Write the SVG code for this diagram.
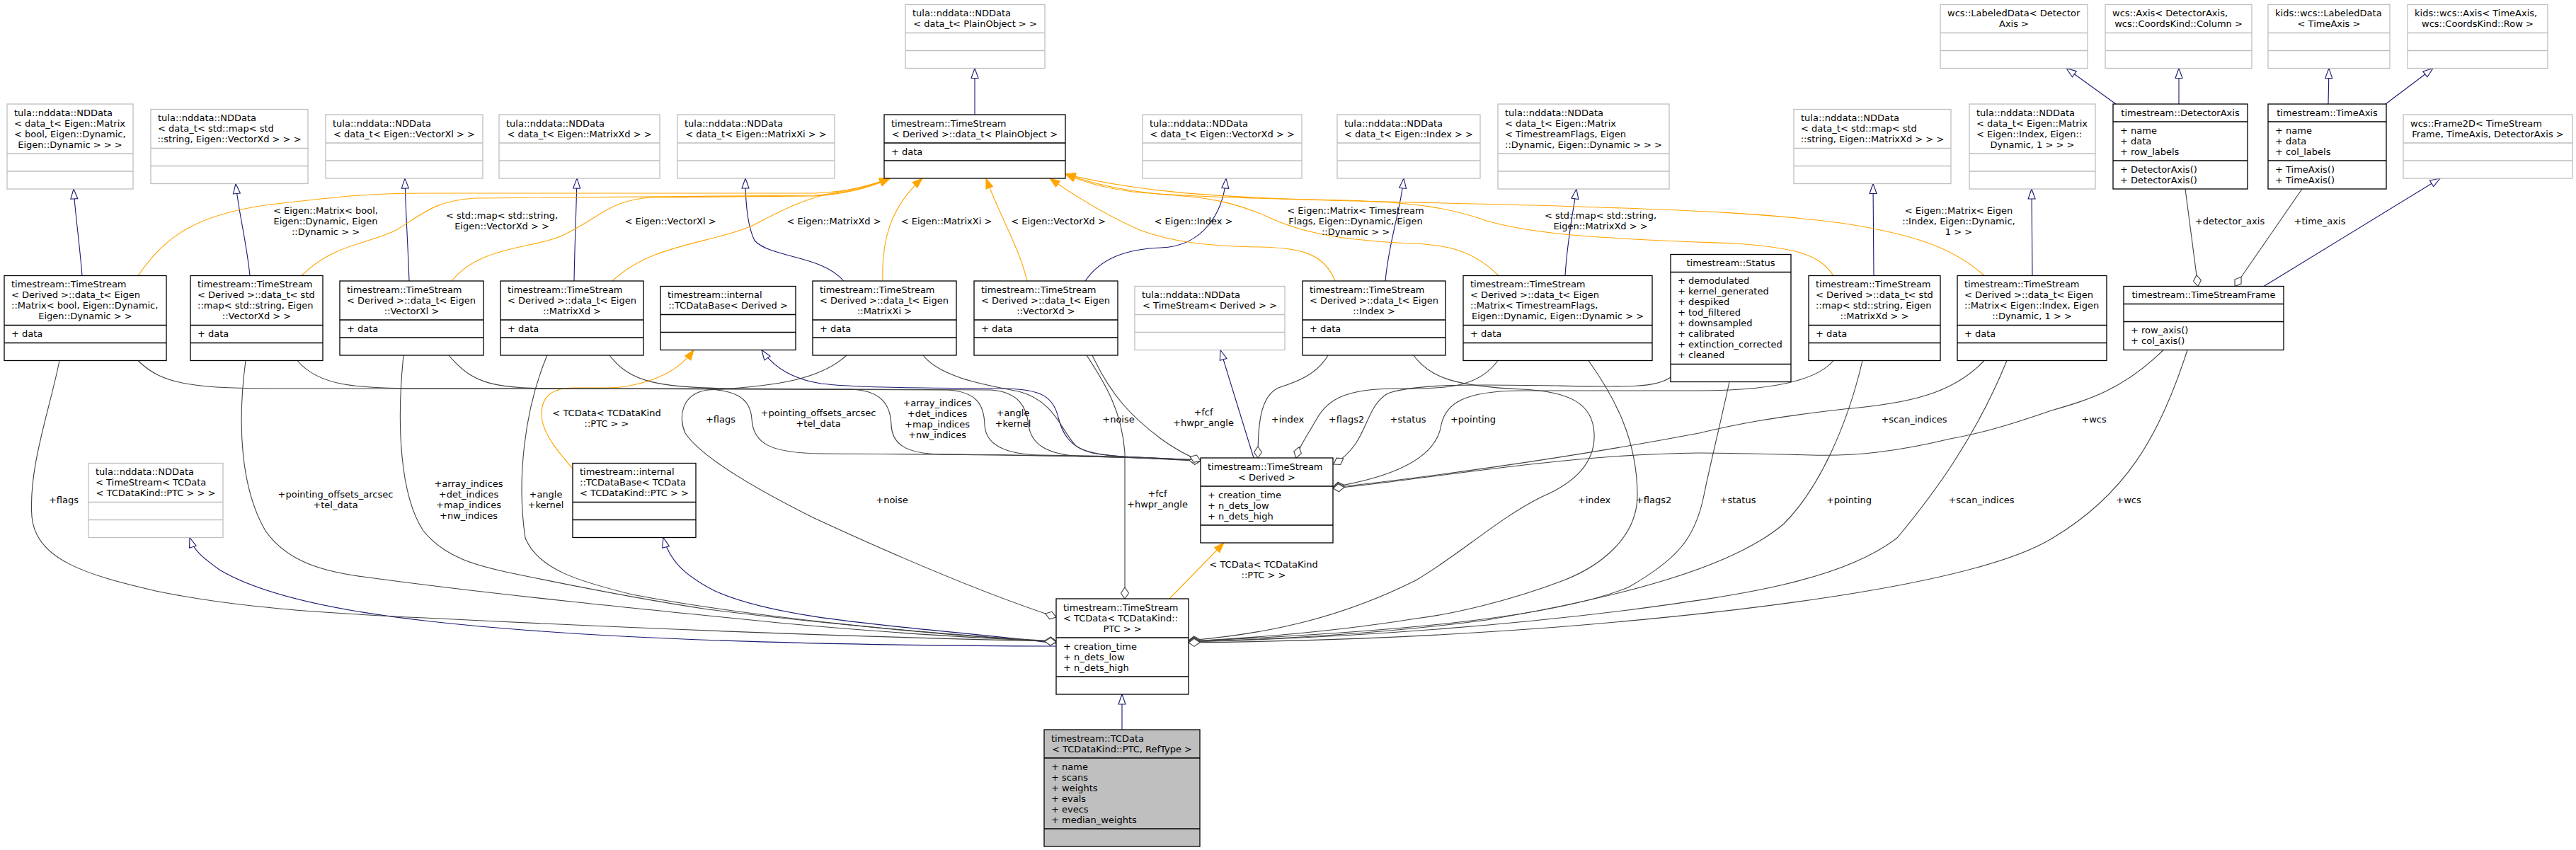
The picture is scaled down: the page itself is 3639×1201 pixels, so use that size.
<svg xmlns="http://www.w3.org/2000/svg" width="3639" height="1201" viewBox="0 0 3639 1201">
<style>
text{font-family:"DejaVu Sans","Liberation Sans",sans-serif;font-size:13px;fill:#000}
.m{text-anchor:middle}
.nb rect{fill:#fff;stroke:#000;stroke-width:1.3}
.nb path{fill:none;stroke:#000;stroke-width:1.3}
.ng rect{fill:#fff;stroke:#bfbfbf;stroke-width:1.3}
.ng path{fill:none;stroke:#bfbfbf;stroke-width:1.3}
.nh rect{fill:#bfbfbf;stroke:#000;stroke-width:1.3}
.nh path{fill:none;stroke:#000;stroke-width:1.3}
#edges path{fill:none;stroke-width:1.1}
#edges .inh{stroke:#191970;marker-end:url(#mInh)}
#edges .tpl{stroke:#ffa500;marker-end:url(#mTpl)}
#edges .agg{stroke:#404040;marker-end:url(#mAgg)}
</style>
<defs>
<marker id="mInh" markerUnits="userSpaceOnUse" markerWidth="18" markerHeight="14" refX="15" refY="6" orient="auto" overflow="visible"><path d="M1,1 L15,6 L1,11 Z" fill="#fff" stroke="#191970" stroke-width="1.1"/></marker>
<marker id="mTpl" markerUnits="userSpaceOnUse" markerWidth="18" markerHeight="14" refX="15" refY="6" orient="auto" overflow="visible"><path d="M1,1 L15,6 L1,11 Z" fill="#ffa500" stroke="#ffa500" stroke-width="1.1"/></marker>
<marker id="mAgg" markerUnits="userSpaceOnUse" markerWidth="20" markerHeight="14" refX="17" refY="6" orient="auto" overflow="visible"><path d="M1,6 L9,0.5 L17,6 L9,11.5 Z" fill="#fff" stroke="#404040" stroke-width="1.1"/></marker>
</defs>
<rect x="0" y="0" width="3639" height="1201" fill="#fff"/>

<g id="edges">
<!-- inheritance -->
<path class="inh" d="M1377,162 L1377,96.5"/>
<path class="inh" d="M116,389.5 C112,340 106,300 104,267"/>
<path class="inh" d="M353,389.5 C348,340 337,300 333,259.5"/>
<path class="inh" d="M578,397 C576,340 573,300 572,252"/>
<path class="inh" d="M811,397 C812,340 814,300 815,252"/>
<path class="inh" d="M1192,397 C1160,360 1090,365 1066,340 C1056,320 1053,290 1053,252"/>
<path class="inh" d="M1533,397 C1555,365 1590,352 1640,350 C1700,348 1728,300 1732,252"/>
<path class="inh" d="M1957,397 C1962,340 1978,300 1983,252"/>
<path class="inh" d="M2211,389.5 C2214,340 2222,300 2227,267"/>
<path class="inh" d="M2647,389.5 L2646,259.5"/>
<path class="inh" d="M2871,389.5 L2870,267"/>
<path class="inh" d="M2989,147 L2919,96.5"/>
<path class="inh" d="M3078,147 L3078,96.5"/>
<path class="inh" d="M3289,147 L3290,96.5"/>
<path class="inh" d="M3370,147 L3437,96.5"/>
<path class="inh" d="M3198,404.5 L3447,252"/>
<path class="inh" d="M1771,647 L1724,494.5"/>
<path class="inh" d="M1696,650 C1620,646 1570,646 1543,640 C1510,632 1500,610 1495,590 C1488,560 1470,550 1420,549 C1300,548 1210,548 1160,542 C1115,535 1090,515 1076,494.5"/>
<path class="inh" d="M1492,909 C1300,885 1110,880 1010,835 C965,812 945,790 937,759.5"/>
<path class="inh" d="M1492,913 C1100,912 800,900 600,877 C450,860 360,835 310,805 C285,787 274,778 268,759.5"/>
<path class="inh" d="M1585,1031 L1585,981"/>
<!-- template instances -->
<path class="tpl" d="M195,389.5 C230,340 270,300 399,287 C480,278 520,273 600,273 L1150,273 C1200,271 1230,262 1257,252"/>
<path class="tpl" d="M426,389.5 C470,345 520,345 560,325 C600,300 615,284 670,280 L1150,276 C1200,273 1230,263 1257,252"/>
<path class="tpl" d="M638,397 C680,345 760,352 800,330 C850,305 862,283 920,279 L1150,277 C1200,274 1232,264 1257,252"/>
<path class="tpl" d="M865,397 C920,345 1000,345 1060,320 C1100,300 1130,282 1180,272 C1220,265 1240,258 1257,252"/>
<path class="tpl" d="M1247,397 C1245,340 1258,292 1303,252"/>
<path class="tpl" d="M1451,397 C1440,350 1410,300 1393,252"/>
<path class="tpl" d="M1886,397 C1870,355 1830,350 1780,349 C1700,348 1650,340 1610,325 C1560,303 1520,278 1483,252"/>
<path class="tpl" d="M2117,389.5 C2080,352 2040,346 1997,344 C1900,340 1840,330 1790,306 C1740,284 1700,279 1660,276 C1600,272 1550,262 1505,246"/>
<path class="tpl" d="M2590,389.5 C2570,360 2540,350 2450,344 C2300,338 2180,335 2100,312 C2050,294 2000,286 1900,283 C1700,279 1600,269 1505,246"/>
<path class="tpl" d="M2803,389.5 C2760,350 2700,330 2600,315 C2500,302 2400,297 2200,291 C1950,284 1700,281 1600,271 C1560,266 1530,257 1505,246"/>
<path class="tpl" d="M809,662 C790,640 765,612 765,585 C765,557 785,548 810,548 C850,548 870,549 890,545 C925,538 958,525 980,494.5"/>
<path class="tpl" d="M1652,846 L1729,767"/>
<!-- aggregations to TimeStream<Derived> -->
<path class="agg" d="M195,509.5 C230,545 280,549 400,549 L980,549 C1040,549 1060,562 1062,592 C1064,628 1090,640 1160,641 C1400,642 1600,644 1696,651"/>
<path class="agg" d="M420,509.5 C450,545 500,549 600,549 L1200,550 C1245,551 1258,572 1259,600 C1260,628 1280,641 1330,642 C1450,643 1600,645 1696,651"/>
<path class="agg" d="M634,502 C670,545 700,549 800,549 L1340,551 C1380,554 1390,572 1391,600 C1392,628 1420,642 1470,643 C1560,644 1630,646 1696,651"/>
<path class="agg" d="M861,502 C890,540 930,548 1036,549 L1400,551 C1440,554 1450,576 1453,600 C1456,628 1480,643 1530,645 C1600,646 1650,648 1696,651"/>
<path class="agg" d="M1304,502 C1330,535 1400,545 1439,553 C1490,566 1500,610 1520,630 C1540,645 1600,647 1696,651"/>
<path class="agg" d="M1543,502 C1570,560 1600,590 1640,620 C1662,636 1680,645 1696,651"/>
<path class="agg" d="M1876,502 C1860,530 1830,540 1806,548 C1780,560 1777,600 1777,647"/>
<path class="agg" d="M2116,509.5 C2090,545 2050,550 1980,549 C1900,548 1875,565 1860,592 C1845,618 1835,632 1831,647"/>
<path class="agg" d="M2360,533 C2340,548 2300,547 2200,545 C2080,543 2000,542 1960,556 C1925,578 1935,625 1884,656"/>
<path class="agg" d="M2590,509.5 C2560,545 2470,552 2400,552 L2150,552 C2065,552 2042,572 2036,600 C2030,642 1980,672 1883,688"/>
<path class="agg" d="M2803,509.5 C2760,555 2700,570 2605,578 C2500,590 2450,600 2400,612 C2200,650 2000,676 1883,689"/>
<path class="agg" d="M3056,494.5 C3000,550 2950,565 2898,580 C2840,600 2800,612 2755,620 C2680,638 2620,645 2558,643 C2480,641 2440,640 2400,640 C2200,642 2000,680 1883,690"/>
<!-- aggregations to TimeStream<TCData<...>> -->
<path class="agg" d="M84,509.5 C70,580 40,660 45,730 C50,790 120,812 220,835 C330,858 450,866 600,873 C900,888 1200,900 1492,906"/>
<path class="agg" d="M347,509.5 C335,600 340,690 375,750 C410,800 470,810 536,818 C700,840 900,860 1100,880 C1250,894 1400,903 1492,906"/>
<path class="agg" d="M570,502 C560,600 565,700 598,750 C630,790 680,800 714,808 C800,826 900,846 1000,861 C1200,886 1400,901 1492,906"/>
<path class="agg" d="M773,502 C740,580 730,680 742,760 C760,805 820,822 893,840 C1050,870 1300,896 1492,907"/>
<path class="agg" d="M1196,502 C1160,535 1100,546 1000,551 C962,556 958,590 968,612 C988,642 1050,682 1150,732 C1280,792 1400,842 1492,872"/>
<path class="agg" d="M1535,502 C1560,540 1585,580 1589,640 L1589,846"/>
<path class="agg" d="M1997,502 C2020,535 2060,546 2150,550 C2220,553 2250,572 2252,612 C2254,650 2230,680 2178,702 C2120,730 2060,785 2000,820 C1900,870 1800,895 1679,905"/>
<path class="agg" d="M2244,509.5 C2280,560 2313,620 2313,700 C2313,760 2260,800 2209,820 C2130,850 2050,868 2000,874 C1900,890 1800,900 1679,906"/>
<path class="agg" d="M2443,539.5 C2430,600 2415,660 2407,700 C2395,760 2370,790 2300,830 C2200,870 2000,892 1679,906"/>
<path class="agg" d="M2631,509.5 C2610,600 2570,690 2520,740 C2450,800 2300,842 2100,876 C1950,896 1800,903 1679,907"/>
<path class="agg" d="M2835,509.5 C2790,620 2730,700 2680,760 C2600,822 2450,842 2300,862 C2100,887 1900,901 1679,907"/>
<path class="agg" d="M3090,494.5 C3050,620 3000,700 2900,760 C2800,822 2500,862 2200,886 C2000,901 1850,906 1679,908"/>
<!-- aggregations to TimeStreamFrame -->
<path class="agg" d="M3087,267 L3105,404.5"/>
<path class="agg" d="M3252,267 L3157,404.5"/>
</g>

<g id="edge-labels">
<text class="m" x="460" y="302">&lt; Eigen::Matrix&lt; bool,</text>
<text class="m" x="460" y="317">Eigen::Dynamic, Eigen</text>
<text class="m" x="460" y="332">::Dynamic &gt; &gt;</text>
<text class="m" x="709" y="309">&lt; std::map&lt; std::string,</text>
<text class="m" x="709" y="324">Eigen::VectorXd &gt; &gt;</text>
<text class="m" x="947" y="317">&lt; Eigen::VectorXl &gt;</text>
<text class="m" x="1178" y="317">&lt; Eigen::MatrixXd &gt;</text>
<text class="m" x="1337" y="317">&lt; Eigen::MatrixXi &gt;</text>
<text class="m" x="1495" y="317">&lt; Eigen::VectorXd &gt;</text>
<text class="m" x="1686" y="317">&lt; Eigen::Index &gt;</text>
<text class="m" x="1915" y="302">&lt; Eigen::Matrix&lt; Timestream</text>
<text class="m" x="1915" y="317">Flags, Eigen::Dynamic, Eigen</text>
<text class="m" x="1915" y="332">::Dynamic &gt; &gt;</text>
<text class="m" x="2261" y="309">&lt; std::map&lt; std::string,</text>
<text class="m" x="2261" y="324">Eigen::MatrixXd &gt; &gt;</text>
<text class="m" x="2767" y="302">&lt; Eigen::Matrix&lt; Eigen</text>
<text class="m" x="2767" y="317">::Index, Eigen::Dynamic,</text>
<text class="m" x="2767" y="332">1 &gt; &gt;</text>
<text class="m" x="857" y="588">&lt; TCData&lt; TCDataKind</text>
<text class="m" x="857" y="603">::PTC &gt; &gt;</text>
<text class="m" x="1785" y="802">&lt; TCData&lt; TCDataKind</text>
<text class="m" x="1785" y="817">::PTC &gt; &gt;</text>
<text class="m" x="1018" y="597">+flags</text>
<text class="m" x="1156" y="588">+pointing_offsets_arcsec</text>
<text class="m" x="1156" y="603">+tel_data</text>
<text class="m" x="1324" y="574">+array_indices</text>
<text class="m" x="1324" y="589">+det_indices</text>
<text class="m" x="1324" y="604">+map_indices</text>
<text class="m" x="1324" y="619">+nw_indices</text>
<text class="m" x="1431" y="588">+angle</text>
<text class="m" x="1431" y="603">+kernel</text>
<text class="m" x="1580" y="597">+noise</text>
<text class="m" x="1700" y="587">+fcf</text>
<text class="m" x="1700" y="602">+hwpr_angle</text>
<text class="m" x="1819" y="597">+index</text>
<text class="m" x="1902" y="597">+flags2</text>
<text class="m" x="1989" y="597">+status</text>
<text class="m" x="2081" y="597">+pointing</text>
<text class="m" x="2704" y="597">+scan_indices</text>
<text class="m" x="2958" y="597">+wcs</text>
<text class="m" x="90" y="711">+flags</text>
<text class="m" x="474" y="703">+pointing_offsets_arcsec</text>
<text class="m" x="474" y="718">+tel_data</text>
<text class="m" x="662" y="688">+array_indices</text>
<text class="m" x="662" y="703">+det_indices</text>
<text class="m" x="662" y="718">+map_indices</text>
<text class="m" x="662" y="733">+nw_indices</text>
<text class="m" x="771" y="703">+angle</text>
<text class="m" x="771" y="718">+kernel</text>
<text class="m" x="1260" y="711">+noise</text>
<text class="m" x="1635" y="702">+fcf</text>
<text class="m" x="1635" y="717">+hwpr_angle</text>
<text class="m" x="2252" y="711">+index</text>
<text class="m" x="2336" y="711">+flags2</text>
<text class="m" x="2455" y="711">+status</text>
<text class="m" x="2612" y="711">+pointing</text>
<text class="m" x="2799" y="711">+scan_indices</text>
<text class="m" x="3007" y="711">+wcs</text>
<text class="m" x="3150" y="317">+detector_axis</text>
<text class="m" x="3277" y="317">+time_axis</text>
</g>

<!-- rank 1 -->
<g id="n_nd_plainobject" class="ng"><rect x="1279" y="6.5" width="197" height="90"/><path d="M1279,46.5 h197 M1279,71.5 h197"/>
<text x="1289" y="23">tula::nddata::NDData</text><text class="m" x="1377.5" y="38">&lt; data_t&lt; PlainObject &gt; &gt;</text></g>
<g id="n_labeleddata_det" class="ng"><rect x="2741" y="6.5" width="208" height="90"/><path d="M2741,46.5 h208 M2741,71.5 h208"/>
<text x="2751" y="23">wcs::LabeledData&lt; Detector</text><text class="m" x="2845" y="38">Axis &gt;</text></g>
<g id="n_axis_det" class="ng"><rect x="2974" y="6.5" width="207" height="90"/><path d="M2974,46.5 h207 M2974,71.5 h207"/>
<text x="2984" y="23">wcs::Axis&lt; DetectorAxis,</text><text class="m" x="3077.5" y="38">wcs::CoordsKind::Column &gt;</text></g>
<g id="n_labeleddata_time" class="ng"><rect x="3204" y="6.5" width="172" height="90"/><path d="M3204,46.5 h172 M3204,71.5 h172"/>
<text x="3214" y="23">kids::wcs::LabeledData</text><text class="m" x="3290" y="38">&lt; TimeAxis &gt;</text></g>
<g id="n_axis_time" class="ng"><rect x="3401" y="6.5" width="198" height="90"/><path d="M3401,46.5 h198 M3401,71.5 h198"/>
<text x="3411" y="23">kids::wcs::Axis&lt; TimeAxis,</text><text class="m" x="3500" y="38">wcs::CoordsKind::Row &gt;</text></g>

<!-- rank 2 -->
<g id="n_nd_matbool" class="ng"><rect x="10" y="147" width="178" height="120"/><path d="M10,217 h178 M10,242 h178"/>
<text x="20" y="163.5">tula::nddata::NDData</text><text x="20" y="178.5">&lt; data_t&lt; Eigen::Matrix</text><text x="20" y="193.5">&lt; bool, Eigen::Dynamic,</text><text class="m" x="99" y="208.5">Eigen::Dynamic &gt; &gt; &gt;</text></g>
<g id="n_nd_mapvec" class="ng"><rect x="213" y="154.5" width="222" height="105"/><path d="M213,209.5 h222 M213,234.5 h222"/>
<text x="223" y="171">tula::nddata::NDData</text><text x="223" y="186">&lt; data_t&lt; std::map&lt; std</text><text class="m" x="324" y="201">::string, Eigen::VectorXd &gt; &gt; &gt;</text></g>
<g id="n_nd_vecxl" class="ng"><rect x="460" y="162" width="222" height="90"/><path d="M460,202 h222 M460,227 h222"/>
<text x="470" y="178.5">tula::nddata::NDData</text><text class="m" x="571" y="193.5">&lt; data_t&lt; Eigen::VectorXl &gt; &gt;</text></g>
<g id="n_nd_matxd" class="ng"><rect x="705" y="162" width="227" height="90"/><path d="M705,202 h227 M705,227 h227"/>
<text x="715" y="178.5">tula::nddata::NDData</text><text class="m" x="818.5" y="193.5">&lt; data_t&lt; Eigen::MatrixXd &gt; &gt;</text></g>
<g id="n_nd_matxi" class="ng"><rect x="957" y="162" width="222" height="90"/><path d="M957,202 h222 M957,227 h222"/>
<text x="967" y="178.5">tula::nddata::NDData</text><text class="m" x="1068" y="193.5">&lt; data_t&lt; Eigen::MatrixXi &gt; &gt;</text></g>
<g id="n_datat_plainobject" class="nb"><rect x="1249" y="162" width="256" height="90"/><path d="M1249,202 h256 M1249,227 h256"/>
<text x="1259" y="178.5">timestream::TimeStream</text><text class="m" x="1377" y="193.5">&lt; Derived &gt;::data_t&lt; PlainObject &gt;</text><text x="1259" y="218.5">+ data</text></g>
<g id="n_nd_vecxd" class="ng"><rect x="1614" y="162" width="225" height="90"/><path d="M1614,202 h225 M1614,227 h225"/>
<text x="1624" y="178.5">tula::nddata::NDData</text><text class="m" x="1726.5" y="193.5">&lt; data_t&lt; Eigen::VectorXd &gt; &gt;</text></g>
<g id="n_nd_index" class="ng"><rect x="1889" y="162" width="202" height="90"/><path d="M1889,202 h202 M1889,227 h202"/>
<text x="1899" y="178.5">tula::nddata::NDData</text><text class="m" x="1990" y="193.5">&lt; data_t&lt; Eigen::Index &gt; &gt;</text></g>
<g id="n_nd_matflags" class="ng"><rect x="2116" y="147" width="242" height="120"/><path d="M2116,217 h242 M2116,242 h242"/>
<text x="2126" y="163.5">tula::nddata::NDData</text><text x="2126" y="178.5">&lt; data_t&lt; Eigen::Matrix</text><text x="2126" y="193.5">&lt; TimestreamFlags, Eigen</text><text class="m" x="2237" y="208.5">::Dynamic, Eigen::Dynamic &gt; &gt; &gt;</text></g>
<g id="n_nd_mapmat" class="ng"><rect x="2534" y="154.5" width="222" height="105"/><path d="M2534,209.5 h222 M2534,234.5 h222"/>
<text x="2544" y="171">tula::nddata::NDData</text><text x="2544" y="186">&lt; data_t&lt; std::map&lt; std</text><text class="m" x="2645" y="201">::string, Eigen::MatrixXd &gt; &gt; &gt;</text></g>
<g id="n_nd_matindex" class="ng"><rect x="2782" y="147" width="178" height="120"/><path d="M2782,217 h178 M2782,242 h178"/>
<text x="2792" y="163.5">tula::nddata::NDData</text><text x="2792" y="178.5">&lt; data_t&lt; Eigen::Matrix</text><text x="2792" y="193.5">&lt; Eigen::Index, Eigen::</text><text class="m" x="2871" y="208.5">Dynamic, 1 &gt; &gt; &gt;</text></g>
<g id="n_detectoraxis" class="nb"><rect x="2985" y="147" width="190" height="120"/><path d="M2985,172 h190 M2985,227 h190"/>
<text class="m" x="3080" y="163.5">timestream::DetectorAxis</text><text x="2995" y="188.5">+ name</text><text x="2995" y="203.5">+ data</text><text x="2995" y="218.5">+ row_labels</text><text x="2995" y="243.5">+ DetectorAxis()</text><text x="2995" y="258.5">+ DetectorAxis()</text></g>
<g id="n_timeaxis" class="nb"><rect x="3204" y="147" width="167" height="120"/><path d="M3204,172 h167 M3204,227 h167"/>
<text class="m" x="3287.5" y="163.5">timestream::TimeAxis</text><text x="3214" y="188.5">+ name</text><text x="3214" y="203.5">+ data</text><text x="3214" y="218.5">+ col_labels</text><text x="3214" y="243.5">+ TimeAxis()</text><text x="3214" y="258.5">+ TimeAxis()</text></g>
<g id="n_frame2d" class="ng"><rect x="3395" y="162" width="239" height="90"/><path d="M3395,202 h239 M3395,227 h239"/>
<text x="3405" y="178.5">wcs::Frame2D&lt; TimeStream</text><text class="m" x="3514.5" y="193.5">Frame, TimeAxis, DetectorAxis &gt;</text></g>

<!-- rank 3 -->
<g id="n_dt_matbool" class="nb"><rect x="6" y="389.5" width="229" height="120"/><path d="M6,459.5 h229 M6,484.5 h229"/>
<text x="16" y="406">timestream::TimeStream</text><text x="16" y="421">&lt; Derived &gt;::data_t&lt; Eigen</text><text x="16" y="436">::Matrix&lt; bool, Eigen::Dynamic,</text><text class="m" x="120.5" y="451">Eigen::Dynamic &gt; &gt;</text><text x="16" y="476">+ data</text></g>
<g id="n_dt_mapvec" class="nb"><rect x="269" y="389.5" width="187" height="120"/><path d="M269,459.5 h187 M269,484.5 h187"/>
<text x="279" y="406">timestream::TimeStream</text><text x="279" y="421">&lt; Derived &gt;::data_t&lt; std</text><text x="279" y="436">::map&lt; std::string, Eigen</text><text class="m" x="362.5" y="451">::VectorXd &gt; &gt;</text><text x="279" y="476">+ data</text></g>
<g id="n_dt_vecxl" class="nb"><rect x="480" y="397" width="203" height="105"/><path d="M480,452 h203 M480,477 h203"/>
<text x="490" y="413.5">timestream::TimeStream</text><text x="490" y="428.5">&lt; Derived &gt;::data_t&lt; Eigen</text><text class="m" x="581.5" y="443.5">::VectorXl &gt;</text><text x="490" y="468.5">+ data</text></g>
<g id="n_dt_matxd" class="nb"><rect x="707" y="397" width="202" height="105"/><path d="M707,452 h202 M707,477 h202"/>
<text x="717" y="413.5">timestream::TimeStream</text><text x="717" y="428.5">&lt; Derived &gt;::data_t&lt; Eigen</text><text class="m" x="808" y="443.5">::MatrixXd &gt;</text><text x="717" y="468.5">+ data</text></g>
<g id="n_tcdatabase_derived" class="nb"><rect x="933" y="404.5" width="191" height="90"/><path d="M933,444.5 h191 M933,469.5 h191"/>
<text x="943" y="421">timestream::internal</text><text class="m" x="1028.5" y="436">::TCDataBase&lt; Derived &gt;</text></g>
<g id="n_dt_matxi" class="nb"><rect x="1148" y="397" width="203" height="105"/><path d="M1148,452 h203 M1148,477 h203"/>
<text x="1158" y="413.5">timestream::TimeStream</text><text x="1158" y="428.5">&lt; Derived &gt;::data_t&lt; Eigen</text><text class="m" x="1249.5" y="443.5">::MatrixXi &gt;</text><text x="1158" y="468.5">+ data</text></g>
<g id="n_dt_vecxd" class="nb"><rect x="1376" y="397" width="203" height="105"/><path d="M1376,452 h203 M1376,477 h203"/>
<text x="1386" y="413.5">timestream::TimeStream</text><text x="1386" y="428.5">&lt; Derived &gt;::data_t&lt; Eigen</text><text class="m" x="1477.5" y="443.5">::VectorXd &gt;</text><text x="1386" y="468.5">+ data</text></g>
<g id="n_nd_timestream_derived" class="ng"><rect x="1603" y="404.5" width="212" height="90"/><path d="M1603,444.5 h212 M1603,469.5 h212"/>
<text x="1613" y="421">tula::nddata::NDData</text><text class="m" x="1709" y="436">&lt; TimeStream&lt; Derived &gt; &gt;</text></g>
<g id="n_dt_index" class="nb"><rect x="1840" y="397" width="202" height="105"/><path d="M1840,452 h202 M1840,477 h202"/>
<text x="1850" y="413.5">timestream::TimeStream</text><text x="1850" y="428.5">&lt; Derived &gt;::data_t&lt; Eigen</text><text class="m" x="1941" y="443.5">::Index &gt;</text><text x="1850" y="468.5">+ data</text></g>
<g id="n_dt_matflags" class="nb"><rect x="2067" y="389.5" width="267" height="120"/><path d="M2067,459.5 h267 M2067,484.5 h267"/>
<text x="2077" y="406">timestream::TimeStream</text><text x="2077" y="421">&lt; Derived &gt;::data_t&lt; Eigen</text><text x="2077" y="436">::Matrix&lt; TimestreamFlags,</text><text class="m" x="2200.5" y="451">Eigen::Dynamic, Eigen::Dynamic &gt; &gt;</text><text x="2077" y="476">+ data</text></g>
<g id="n_status" class="nb"><rect x="2360" y="359.5" width="170" height="180"/><path d="M2360,384.5 h170 M2360,514.5 h170"/>
<text class="m" x="2445" y="376">timestream::Status</text>
<text x="2370" y="401">+ demodulated</text><text x="2370" y="416">+ kernel_generated</text><text x="2370" y="431">+ despiked</text><text x="2370" y="446">+ tod_filtered</text><text x="2370" y="461">+ downsampled</text><text x="2370" y="476">+ calibrated</text><text x="2370" y="491">+ extinction_corrected</text><text x="2370" y="506">+ cleaned</text></g>
<g id="n_dt_mapmat" class="nb"><rect x="2555" y="389.5" width="186" height="120"/><path d="M2555,459.5 h186 M2555,484.5 h186"/>
<text x="2565" y="406">timestream::TimeStream</text><text x="2565" y="421">&lt; Derived &gt;::data_t&lt; std</text><text x="2565" y="436">::map&lt; std::string, Eigen</text><text class="m" x="2648" y="451">::MatrixXd &gt; &gt;</text><text x="2565" y="476">+ data</text></g>
<g id="n_dt_matindex" class="nb"><rect x="2765" y="389.5" width="211" height="120"/><path d="M2765,459.5 h211 M2765,484.5 h211"/>
<text x="2775" y="406">timestream::TimeStream</text><text x="2775" y="421">&lt; Derived &gt;::data_t&lt; Eigen</text><text x="2775" y="436">::Matrix&lt; Eigen::Index, Eigen</text><text class="m" x="2870.5" y="451">::Dynamic, 1 &gt; &gt;</text><text x="2775" y="476">+ data</text></g>
<g id="n_timestreamframe" class="nb"><rect x="3000" y="404.5" width="226" height="90"/><path d="M3000,429.5 h226 M3000,454.5 h226"/>
<text class="m" x="3113" y="421">timestream::TimeStreamFrame</text><text x="3010" y="471">+ row_axis()</text><text x="3010" y="486">+ col_axis()</text></g>

<!-- rank 4 -->
<g id="n_nd_timestream_tcdata" class="ng"><rect x="125" y="654.5" width="190" height="105"/><path d="M125,709.5 h190 M125,734.5 h190"/>
<text x="135" y="671">tula::nddata::NDData</text><text x="135" y="686">&lt; TimeStream&lt; TCData</text><text class="m" x="220" y="701">&lt; TCDataKind::PTC &gt; &gt; &gt;</text></g>
<g id="n_tcdatabase_tcdata" class="nb"><rect x="809" y="654.5" width="174" height="105"/><path d="M809,709.5 h174 M809,734.5 h174"/>
<text x="819" y="671">timestream::internal</text><text x="819" y="686">::TCDataBase&lt; TCData</text><text class="m" x="896" y="701">&lt; TCDataKind::PTC &gt; &gt;</text></g>
<g id="n_timestream_derived" class="nb"><rect x="1696" y="647" width="187" height="120"/><path d="M1696,687 h187 M1696,742 h187"/>
<text x="1706" y="663.5">timestream::TimeStream</text><text class="m" x="1789.5" y="678.5">&lt; Derived &gt;</text>
<text x="1706" y="703.5">+ creation_time</text><text x="1706" y="718.5">+ n_dets_low</text><text x="1706" y="733.5">+ n_dets_high</text></g>

<!-- rank 5 -->
<g id="n_timestream_tcdata" class="nb"><rect x="1492" y="846" width="187" height="135"/><path d="M1492,901 h187 M1492,956 h187"/>
<text x="1502" y="862.5">timestream::TimeStream</text><text x="1502" y="877.5">&lt; TCData&lt; TCDataKind::</text><text class="m" x="1585.5" y="892.5">PTC &gt; &gt;</text>
<text x="1502" y="917.5">+ creation_time</text><text x="1502" y="932.5">+ n_dets_low</text><text x="1502" y="947.5">+ n_dets_high</text></g>

<!-- rank 6 -->
<g id="n_tcdata" class="nh"><rect x="1475" y="1031" width="220" height="165"/><path d="M1475,1071 h220 M1475,1171 h220"/>
<text x="1485" y="1047.5">timestream::TCData</text><text class="m" x="1585" y="1062.5">&lt; TCDataKind::PTC, RefType &gt;</text>
<text x="1485" y="1087.5">+ name</text><text x="1485" y="1102.5">+ scans</text><text x="1485" y="1117.5">+ weights</text><text x="1485" y="1132.5">+ evals</text><text x="1485" y="1147.5">+ evecs</text><text x="1485" y="1162.5">+ median_weights</text></g>
</svg>
